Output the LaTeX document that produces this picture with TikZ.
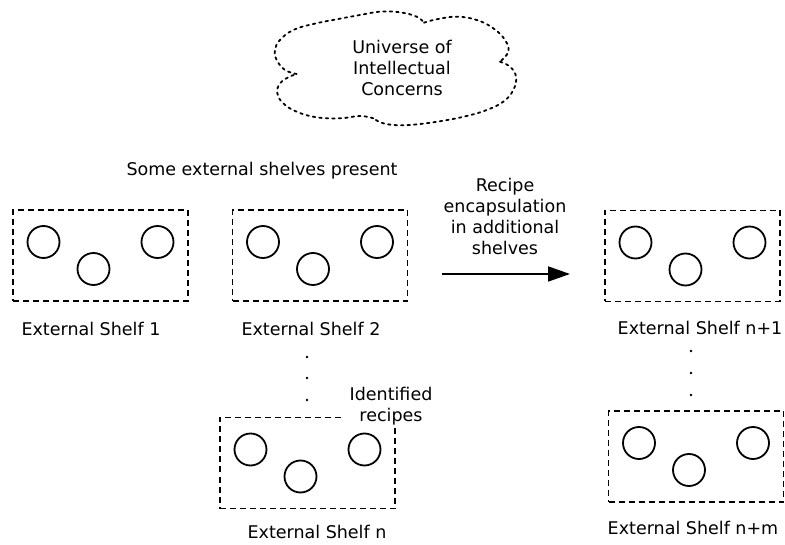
\documentclass[tikz,border=0pt]{standalone}
\usepackage{fontspec}
\setmainfont{DejaVu Sans}
\usetikzlibrary{arrows.meta,calc}
\begin{document}
\begin{tikzpicture}[x=1pt,y=-1pt,
  lbl/.style={font=\fontsize{17.5}{21}\selectfont, align=center, inner sep=0pt},
  shelf/.style={draw, line width=1.8pt, dash pattern=on 6pt off 4pt,
    minimum width=175pt, minimum height=91pt, inner sep=0pt},
  item/.style={draw, circle, line width=1.8pt, minimum size=32pt, inner sep=0pt},
  cloudline/.style={line width=1.8pt, dash pattern=on 2.5pt off 4pt, line cap=round},
  vdot/.style={circle, fill=black, inner sep=0pt, minimum size=2.8pt}]
\useasboundingbox (0,0) rectangle (785,545);

% cloud outline, four lobes
\draw[cloudline] plot[smooth, tension=0.7] coordinates {(296.7,74) (285,70) (276.7,60) (275,50) (280,40) (293.3,30) (313.3,24) (336.7,19.3) (360,15) (380,11.7) (400,12.3) (416.7,16.7) (424,22.7)};
\draw[cloudline] plot[smooth, tension=0.7] coordinates {(424,22.7) (436.7,19.3) (456.7,16.7) (476.7,20) (493.3,28.3) (505,40) (508.3,51.7) (500,61.7)};
\draw[cloudline] plot[smooth, tension=0.7] coordinates {(500,61.7) (510,66.7) (516,76.7) (513.3,90) (503.3,101.7) (486.7,110) (466.7,116) (443.3,120.7) (420,124) (400,125.3) (383.3,123.3) (373.3,118.3)};
\draw[cloudline] plot[smooth, tension=0.7] coordinates {(373.3,118.3) (360,116) (340,118.3) (316.7,117.3) (296.7,111.7) (283.3,103.3) (277.3,93.3) (280,83.3) (288.3,77.3) (296.7,74)};
\node[lbl] (universe) at (402,68) {Universe of\\Intellectual\\Concerns};

% shelves
\node[shelf] (s1)  at (100.5,255.5) {};
\node[shelf] (s2)  at (320,255.5) {};
\node[shelf] (sn1) at (692.5,256) {};
\node[shelf] (sn)  at (307.5,463) {};
\node[shelf] (snm) at (696,456.5) {};

\foreach \s in {s1,s2,sn1,sn,snm} {
  \node[item] (\s-a) at ($(\s.center)+(-57,-13.5)$) {};
  \node[item] (\s-b) at ($(\s.center)+(-7,13.5)$) {};
  \node[item] (\s-c) at ($(\s.center)+(57,-13.5)$) {};
}

% labels
\node[lbl] (present) at (262,171) {Some external shelves present};
\node[lbl] (l1)  at (91,329)  {External Shelf 1};
\node[lbl] (l2)  at (311,329) {External Shelf 2};
\node[lbl] (ln1) at (700,328) {External Shelf n+1};
\node[lbl] (ln)  at (317,532) {External Shelf n};
\node[lbl] (lnm) at (693,528) {External Shelf n+m};
\node[lbl, fill=white, inner xsep=8pt, inner ysep=3pt] (ident) at (391,406) {Identified\\recipes};

% vertical ellipses
\foreach \y [count=\i] in {357,378,400} \node[vdot] (d\i) at (307,\y) {};
\foreach \y [count=\i] in {351,373,395} \node[vdot] (e\i) at (691,\y) {};

% encapsulation arrow
\coordinate (a0) at (442,274);
\coordinate (a1) at (570,274);
\draw[line width=1.8pt, -{Triangle[length=22pt,width=15pt]}] (a0) -- (a1);
\node[lbl] (recipe) at (505,216) {Recipe\\encapsulation\\in additional\\shelves};
\end{tikzpicture}
\end{document}
